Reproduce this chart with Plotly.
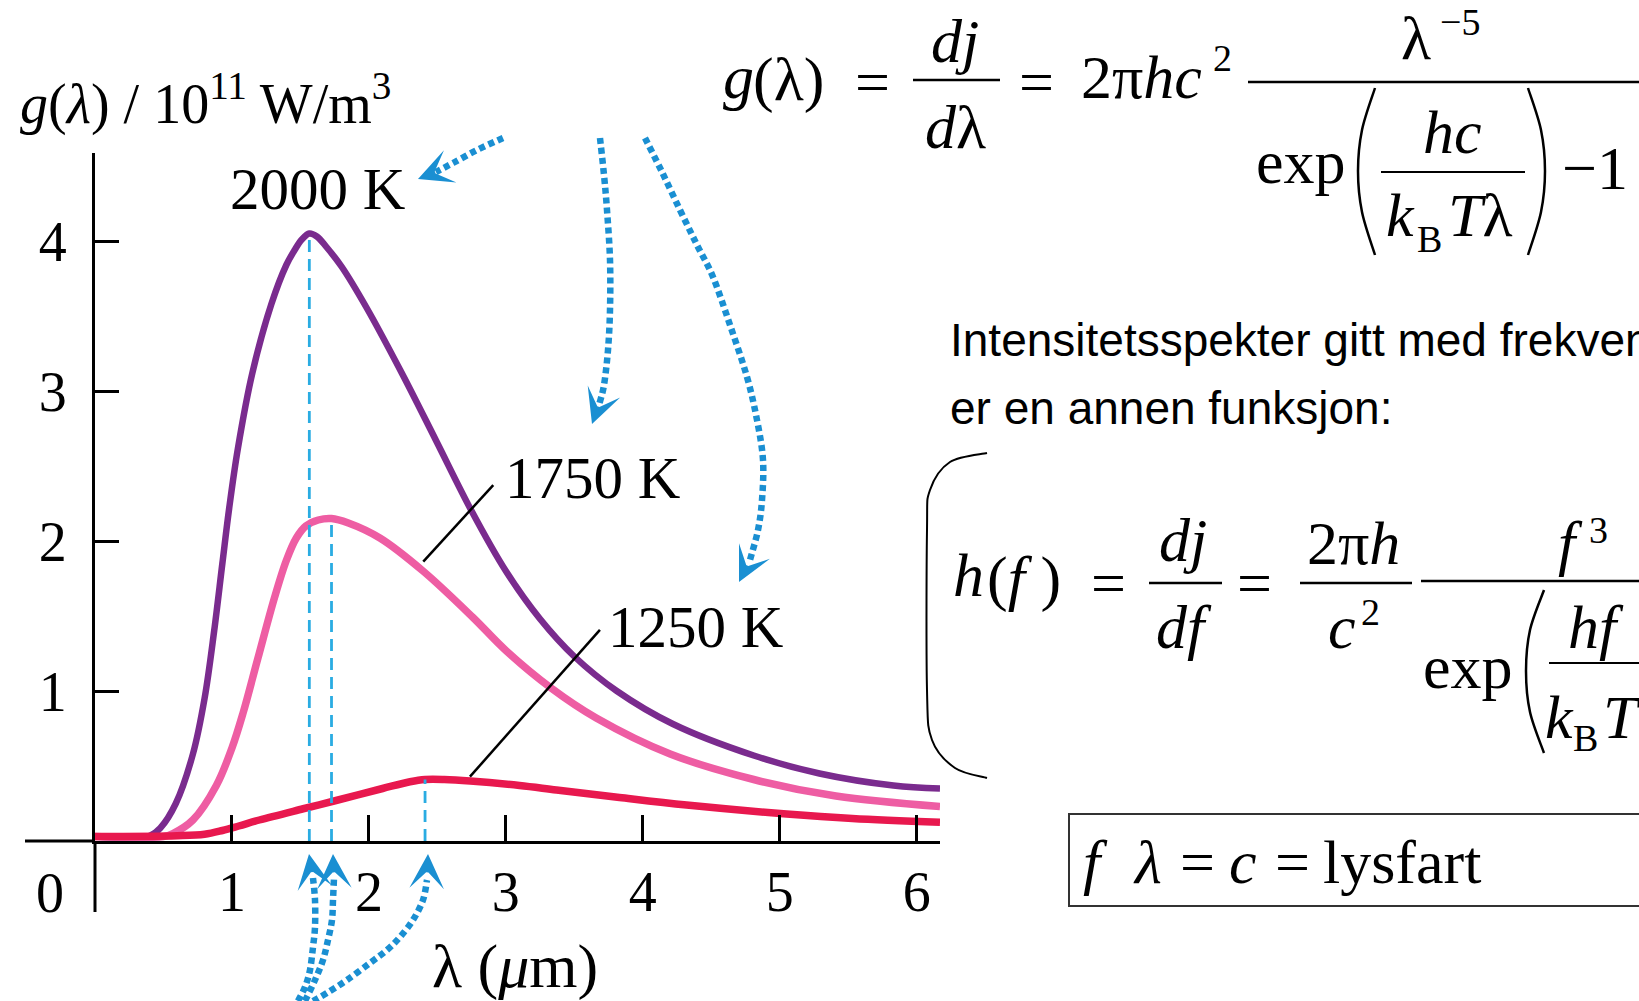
import plotly.graph_objects as go

# ---------------- data ----------------
wl_2000 = [0.00, 0.40, 0.48, 0.59, 0.715, 0.80, 0.87, 0.93, 0.98, 1.044, 1.149, 1.288, 1.397, 1.458,
           1.51, 1.565, 1.62, 1.69, 1.80, 1.98, 2.24, 2.49, 2.75, 3.00, 3.25, 3.50, 3.81, 4.22, 4.81,
           5.29, 5.83, 6.17]
g_2000 = [0.03, 0.035, 0.09, 0.25, 0.58, 0.95, 1.40, 1.85, 2.22, 2.62, 3.12, 3.58, 3.84, 3.94,
          4.01, 4.05, 4.03, 3.96, 3.83, 3.56, 3.12, 2.67, 2.20, 1.80, 1.48, 1.23, 1.00, 0.78, 0.57,
          0.45, 0.37, 0.35]

wl_1750 = [0.00, 0.50, 0.569, 0.715, 0.886, 1.00, 1.08, 1.19, 1.31, 1.397, 1.47, 1.54, 1.63, 1.727,
           1.85, 2.08, 2.395, 2.76, 3.00, 3.33, 3.66, 4.20, 4.81, 5.41, 6.17]
g_1750 = [0.03, 0.03, 0.05, 0.14, 0.37, 0.62, 0.85, 1.22, 1.62, 1.87, 2.02, 2.10, 2.14, 2.15,
          2.12, 2.02, 1.80, 1.49, 1.27, 1.02, 0.82, 0.58, 0.41, 0.30, 0.23]

wl_1250 = [0.00, 0.60, 0.80, 0.93, 1.05, 1.20, 1.52, 1.76, 2.10, 2.30, 2.41, 2.55, 2.74, 3.10, 3.37,
           3.83, 4.32, 5.05, 5.53, 6.17]
g_1250 = [0.03, 0.035, 0.045, 0.07, 0.10, 0.14, 0.215, 0.27, 0.35, 0.395, 0.41, 0.41, 0.40, 0.37, 0.34,
          0.29, 0.24, 0.18, 0.15, 0.125]

peak_wl = [1.565, 1.727, 2.41]
peak_g = [4.05, 2.15, 0.41]
temp_labels = ["2000 K", "1750 K", "1250 K"]

x_ticks = [1, 2, 3, 4, 5, 6]
x_ticktext = ["1", "2", "3", "4", "5", "6"]
y_ticks = [1, 2, 3, 4]
y_ticktext = ["1", "2", "3", "4"]

# ---------------- layout geometry ----------------
W, H = 1639, 1001
ML, MR, MT, MB = 95, 699, 153, 160
PW = W - ML - MR
PH = H - MT - MB
X_MAX = PW / 136.95
Y_MAX = PH / 150.0

SERIF = "Liberation Serif, Times New Roman, serif"
SANS = "Liberation Sans, Arial, sans-serif"
BLUE = "#1A8FD2"
DASHBLUE = "#2AACE2"
FS = 62   # formula font size
FSS = 38  # formula superscript size


def px(xp, yp):
    return (xp - ML) / PW, (H - MB - yp) / PH


fig = go.Figure()

curves = [
    (wl_2000, g_2000, "#7A2B8E", 6.5),
    (wl_1750, g_1750, "#EE5DA3", 7.5),
    (wl_1250, g_1250, "#E8184E", 7.5),
]
for xs, ys, col, w in curves:
    fig.add_trace(go.Scatter(x=xs, y=ys, mode="lines",
                             line=dict(color=col, width=w, shape="spline", smoothing=1.0),
                             hoverinfo="skip"))

for pw, pg in zip(peak_wl, peak_g):
    fig.add_trace(go.Scatter(x=[pw, pw], y=[0, pg], mode="lines",
                             line=dict(color=DASHBLUE, width=2.8, dash="12px,7px"),
                             hoverinfo="skip"))

shapes = []
annotations = []


def seg(x0, y0, x1, y1, width=2.5, color="black"):
    a, b = px(x0, y0)
    c, d = px(x1, y1)
    shapes.append(dict(type="line", xref="paper", yref="paper", x0=a, y0=b, x1=c, y1=d,
                       line=dict(color=color, width=width)))


def txt(s, xp, yp, size=FS, xanchor="center", family=SERIF, color="black"):
    x, y = px(xp, yp)
    annotations.append(dict(text=s, x=x, y=y, xref="paper", yref="paper", xanchor=xanchor,
                            yanchor="middle", showarrow=False,
                            font=dict(family=family, size=size, color=color)))


def smooth_path(pts):
    P = [px(*p) for p in pts]
    d = "M {:.5f},{:.5f}".format(*P[0])
    for i in range(len(P) - 1):
        p0 = P[i - 1] if i > 0 else P[i]
        p1 = P[i]
        p2 = P[i + 1]
        p3 = P[i + 2] if i + 2 < len(P) else P[i + 1]
        c1 = (p1[0] + (p2[0] - p0[0]) / 6, p1[1] + (p2[1] - p0[1]) / 6)
        c2 = (p2[0] - (p3[0] - p1[0]) / 6, p2[1] - (p3[1] - p1[1]) / 6)
        d += " C {:.5f},{:.5f} {:.5f},{:.5f} {:.5f},{:.5f}".format(c1[0], c1[1], c2[0], c2[1], p2[0], p2[1])
    return d


def path_shape(pts, width=2, color="black", dash="solid"):
    shapes.append(dict(type="path", xref="paper", yref="paper", path=smooth_path(pts),
                       line=dict(color=color, width=width, dash=dash)))


def arrow(pts, tip):
    path_shape(pts, width=6.5, color=BLUE, dash="6px,4px")
    lx, ly = pts[-1]
    vx, vy = lx - tip[0], ly - tip[1]
    n = (vx * vx + vy * vy) ** 0.5
    x, y = px(*tip)
    annotations.append(dict(text="", x=x, y=y, xref="paper", yref="paper", showarrow=True,
                            ax=vx / n * 14, ay=vy / n * 14, arrowhead=3, arrowsize=1.8,
                            arrowwidth=3.2, arrowcolor=BLUE, standoff=0))


# axis extensions
seg(25, 841, 95, 841, width=3)
seg(95, 841, 95, 912, width=3)

# leader lines (data coords)
for (x0, y0, x1, y1) in [(2.397, 1.862, 2.908, 2.373), (2.738, 0.429, 3.687, 1.407)]:
    shapes.append(dict(type="line", xref="x", yref="y", x0=x0, y0=y0, x1=x1, y1=y1,
                       line=dict(color="black", width=2.5)))

# curve labels
txt(temp_labels[0], 228, 189, size=59, xanchor="left")
txt(temp_labels[1], 503, 478, size=59, xanchor="left")
txt(temp_labels[2], 606, 627, size=59, xanchor="left")

# axis titles and origin label
txt("<i>g</i>(<i>λ</i>) / 10<sup>11</sup> W/m<sup>3</sup>", 18, 100, size=56, xanchor="left")
txt("λ (<i>μ</i>m)", 515, 966, size=62)
txt("0", 50, 893, size=56)

# arrows (blue dotted)
arrow([(503, 138), (477, 150), (453, 163), (436, 172)], (418, 179))
arrow([(600, 138), (604, 175), (607, 210), (610, 260), (610, 310), (608, 350), (604, 385), (599, 405)], (592, 424))
arrow([(645, 138), (662, 172), (680, 210), (697, 245), (713, 277), (730, 325), (747, 377), (757, 420),
       (763, 460), (762, 500), (758, 530), (750, 560)], (739, 582))
arrow([(298, 1001), (305, 987), (310, 970), (313, 947), (315, 927), (315, 900), (313, 878)], (309, 854))
arrow([(305, 1001), (315, 980), (323, 960), (328, 940), (332, 920), (333, 900), (334, 878)], (333, 854))
arrow([(313, 1001), (327, 993), (347, 980), (370, 963), (387, 950), (400, 937), (413, 920), (423, 900),
       (427, 880)], (428, 854))

# ---- formula 1: g(lambda) ----
txt("<i>g</i>", 738, 77)
txt("(λ)", 788, 80)
txt("=", 872, 82)
txt("<i>dj</i>", 955, 41)
seg(913, 80, 1000, 80, width=2.5)
txt("<i>d</i>λ", 955, 127)
txt("=", 1036, 82)
txt("2π<i>hc</i>", 1141, 77)
txt("2", 1222, 58, size=FSS)
seg(1248, 82, 1650, 82, width=2.5)
txt("λ", 1416, 38)
txt("−5", 1460, 22, size=FSS)
txt("exp", 1301, 162)
path_shape([(1375, 88), (1362, 130), (1358, 171), (1362, 212), (1375, 255)], width=2.5)
path_shape([(1528, 88), (1541, 130), (1545, 171), (1541, 212), (1528, 255)], width=2.5)
txt("<i>hc</i>", 1452, 132)
seg(1381, 172, 1525, 172, width=2)
txt("<i>k</i>", 1400, 215)
txt("B", 1429, 239, size=FSS)
txt("<i>T</i>λ", 1480, 215)
txt("−1", 1595, 168)

# ---- text ----
txt("Intensitetsspekter gitt med frekvens", 948, 340, size=46, xanchor="left", family=SANS)
txt("er en annen funksjon:", 948, 408, size=46, xanchor="left", family=SANS)

# ---- formula 2: h(f) ----
path_shape([(987, 453), (950, 462), (930, 490), (927, 530), (927, 690), (932, 740), (955, 768), (987, 778)], width=2)
txt("<i>h</i>", 968, 575)
txt("(<i>f</i> )", 1024, 578)
txt("=", 1108, 583)
seg(1149, 583, 1222, 583, width=2.5)
txt("<i>dj</i>", 1183, 540)
txt("<i>df</i>", 1184, 627)
txt("=", 1254, 583)
seg(1300, 583, 1412, 583, width=2.5)
txt("2π<i>h</i>", 1353, 543)
txt("<i>c</i>", 1342, 627)
txt("2", 1370, 612, size=FSS)
seg(1421, 581, 1650, 581, width=2.5)
txt("<i>f</i>", 1570, 543)
txt("3", 1598, 530, size=FSS)
txt("exp", 1468, 667)
path_shape([(1544, 590), (1530, 630), (1526, 671), (1530, 712), (1544, 753)], width=2.5)
txt("<i>hf</i>", 1596, 627)
seg(1549, 663, 1650, 663, width=2)
txt("<i>k</i>", 1559, 717)
txt("B", 1585, 738, size=FSS)
txt("<i>T</i>", 1622, 717)

# ---- formula 3: box ----
a, b = px(1069, 814)
c, d = px(1655, 906)
shapes.append(dict(type="rect", xref="paper", yref="paper", x0=a, y0=b, x1=c, y1=d,
                   line=dict(color="#333333", width=2), fillcolor="rgba(0,0,0,0)"))
txt("<i>f</i>", 1095, 862)
txt("<i>λ</i>", 1147, 862)
txt("=", 1197, 862)
txt("<i>c</i>", 1243, 862)
txt("=", 1292, 862)
txt("lysfart", 1402, 862)

axis_common = dict(showgrid=False, zeroline=False, showline=True, linecolor="black", linewidth=3,
                   ticks="inside", tickcolor="black", tickwidth=2.5, fixedrange=True,
                   tickfont=dict(family=SERIF, size=56, color="black"))

fig.update_layout(
    width=W, height=H,
    margin=dict(l=ML, r=MR, t=MT, b=MB, pad=0, autoexpand=False),
    plot_bgcolor="white", paper_bgcolor="white",
    showlegend=False,
    xaxis=dict(range=[0, X_MAX], tickvals=x_ticks, ticktext=x_ticktext, ticklen=26,
               ticklabelstandoff=0, **axis_common),
    yaxis=dict(range=[0, Y_MAX], tickvals=y_ticks, ticktext=y_ticktext, ticklen=24,
               ticklabelstandoff=14, **axis_common),
    shapes=shapes,
    annotations=annotations,
)

fig.write_html("out.html", config={"displayModeBar": False},
               post_script="document.body.style.margin='0';document.body.style.overflow='hidden';")
